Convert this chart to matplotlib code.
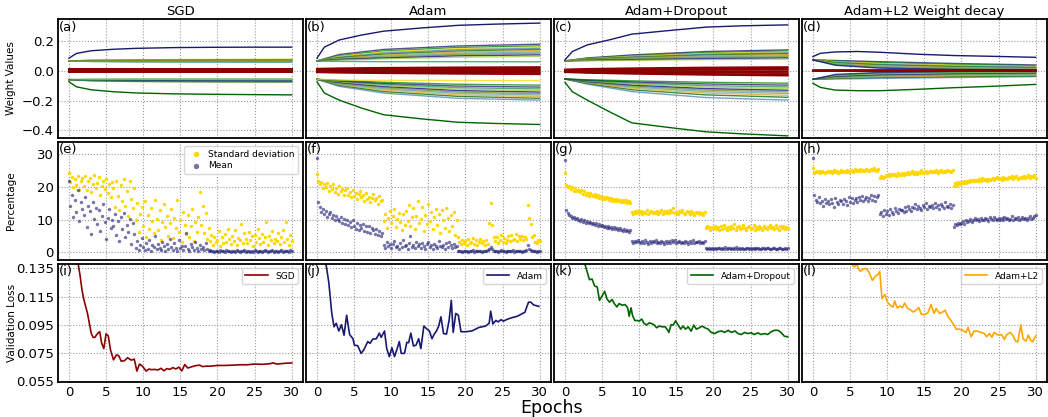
import numpy as np
import matplotlib
matplotlib.use('Agg')
import matplotlib.pyplot as plt

# ---------------- data ----------------
titles = ['SGD', 'Adam', 'Adam+Dropout', 'Adam+L2 Weight decay']
panel_labels = ['(a)', '(b)', '(c)', '(d)', '(e)', '(f)', '(g)', '(h)', '(i)', '(j)', '(k)', '(l)']
loss_names = ['SGD', 'Adam', 'Adam+Dropout', 'Adam+L2']
epoch_ticks = [0, 5, 10, 15, 20, 25, 30]

# weight trajectories: extreme lines sampled at w_epochs, fan lines at fan_epochs
w_epochs = [0, 1, 3, 6, 9, 14, 19, 24, 30]
fan_epochs = [0, 3, 9, 19, 30]

sgd_w_top = [0.083, 0.115, 0.133, 0.143, 0.149, 0.154, 0.156, 0.157, 0.157]
sgd_w_bot = [-0.074, -0.108, -0.128, -0.141, -0.149, -0.155, -0.158, -0.160, -0.162]
sgd_w_up = [[0.065, 0.068, 0.070, 0.071, 0.072], [0.065, 0.062, 0.060, 0.059, 0.058],
            [0.065, 0.070, 0.073, 0.075, 0.076], [0.065, 0.064, 0.063, 0.063, 0.062],
            [0.065, 0.067, 0.068, 0.069, 0.069], [0.065, 0.066, 0.066, 0.066, 0.066],
            [0.065, 0.061, 0.058, 0.057, 0.057], [0.065, 0.069, 0.071, 0.073, 0.074]]
sgd_w_lo = [[-0.060, -0.063, -0.065, -0.066, -0.067], [-0.060, -0.058, -0.057, -0.057, -0.057],
            [-0.060, -0.066, -0.070, -0.072, -0.073], [-0.060, -0.061, -0.062, -0.062, -0.062],
            [-0.060, -0.068, -0.073, -0.075, -0.076], [-0.060, -0.064, -0.067, -0.069, -0.070],
            [-0.060, -0.059, -0.059, -0.059, -0.059], [-0.060, -0.067, -0.071, -0.074, -0.075]]
sgd_w_zero = [[0.013, 0.013, 0.013, 0.013, 0.013], [0.009, 0.009, 0.009, 0.009, 0.009],
              [0.005, 0.005, 0.005, 0.005, 0.005], [0.001, 0.001, 0.001, 0.001, 0.001],
              [-0.003, -0.003, -0.003, -0.003, -0.003], [-0.007, -0.007, -0.007, -0.007, -0.007],
              [-0.011, -0.011, -0.011, -0.011, -0.011]]

adam_w_top = [0.083, 0.157, 0.205, 0.238, 0.264, 0.285, 0.303, 0.311, 0.318]
adam_w_bot = [-0.074, -0.150, -0.197, -0.250, -0.295, -0.322, -0.345, -0.353, -0.360]
adam_w_up = [[0.065, 0.108, 0.142, 0.165, 0.177], [0.065, 0.100, 0.132, 0.155, 0.166],
             [0.065, 0.095, 0.125, 0.147, 0.158], [0.065, 0.090, 0.118, 0.140, 0.150],
             [0.065, 0.086, 0.110, 0.131, 0.142], [0.065, 0.082, 0.104, 0.124, 0.135],
             [0.065, 0.079, 0.097, 0.116, 0.126], [0.065, 0.076, 0.090, 0.108, 0.117],
             [0.065, 0.074, 0.084, 0.099, 0.106], [0.065, 0.071, 0.079, 0.090, 0.095],
             [0.065, 0.062, 0.060, 0.060, 0.059]]
adam_w_lo = [[-0.058, -0.105, -0.150, -0.185, -0.197], [-0.058, -0.098, -0.140, -0.172, -0.185],
             [-0.058, -0.092, -0.130, -0.162, -0.174], [-0.058, -0.088, -0.122, -0.152, -0.163],
             [-0.058, -0.083, -0.114, -0.143, -0.154], [-0.058, -0.079, -0.106, -0.133, -0.143],
             [-0.058, -0.075, -0.099, -0.124, -0.133], [-0.058, -0.071, -0.092, -0.114, -0.122],
             [-0.058, -0.068, -0.085, -0.103, -0.110], [-0.058, -0.065, -0.078, -0.091, -0.097],
             [-0.058, -0.063, -0.065, -0.066, -0.066]]
adam_w_zero = [[0.013, 0.016, 0.019, 0.022, 0.024], [0.009, 0.011, 0.013, 0.015, 0.016],
               [0.005, 0.006, 0.007, 0.008, 0.008], [0.001, 0.001, 0.001, 0.001, 0.000],
               [-0.003, -0.004, -0.005, -0.006, -0.008], [-0.007, -0.009, -0.011, -0.014, -0.016],
               [-0.011, -0.014, -0.017, -0.021, -0.024]]

drop_w_top = [0.072, 0.128, 0.172, 0.206, 0.244, 0.268, 0.291, 0.300, 0.306]
drop_w_bot = [-0.078, -0.141, -0.197, -0.275, -0.349, -0.380, -0.409, -0.423, -0.436]
drop_w_up = [[0.065, 0.085, 0.105, 0.128, 0.139], [0.065, 0.082, 0.100, 0.121, 0.131],
             [0.065, 0.080, 0.096, 0.115, 0.125], [0.065, 0.078, 0.092, 0.110, 0.119],
             [0.065, 0.076, 0.088, 0.104, 0.113], [0.065, 0.074, 0.085, 0.099, 0.107],
             [0.065, 0.072, 0.081, 0.093, 0.100], [0.065, 0.070, 0.077, 0.087, 0.093],
             [0.065, 0.068, 0.073, 0.080, 0.085], [0.065, 0.066, 0.069, 0.074, 0.077]]
drop_w_lo = [[-0.056, -0.090, -0.140, -0.180, -0.197], [-0.056, -0.085, -0.128, -0.162, -0.178],
             [-0.056, -0.081, -0.118, -0.150, -0.165], [-0.056, -0.078, -0.110, -0.140, -0.153],
             [-0.056, -0.075, -0.103, -0.130, -0.142], [-0.056, -0.072, -0.096, -0.120, -0.131],
             [-0.056, -0.069, -0.089, -0.110, -0.120], [-0.056, -0.066, -0.082, -0.100, -0.109],
             [-0.056, -0.063, -0.075, -0.089, -0.097], [-0.056, -0.061, -0.068, -0.078, -0.084]]
drop_w_zero = [[0.008, 0.012, 0.016, 0.021, 0.024], [0.005, 0.007, 0.010, 0.013, 0.015],
               [0.002, 0.003, 0.004, 0.005, 0.006], [-0.001, -0.002, -0.003, -0.004, -0.005],
               [-0.004, -0.007, -0.010, -0.013, -0.016], [-0.007, -0.011, -0.016, -0.022, -0.026],
               [-0.010, -0.015, -0.021, -0.028, -0.033]]

l2_w_top = [0.094, 0.116, 0.125, 0.128, 0.123, 0.110, 0.101, 0.096, 0.089]
l2_w_bot = [-0.085, -0.112, -0.130, -0.134, -0.134, -0.125, -0.114, -0.105, -0.092]
l2_w_up = [[0.072, 0.068, 0.060, 0.048, 0.038], [0.072, 0.064, 0.054, 0.042, 0.033],
           [0.072, 0.060, 0.048, 0.036, 0.028], [0.072, 0.056, 0.043, 0.031, 0.024],
           [0.072, 0.052, 0.038, 0.026, 0.019], [0.072, 0.048, 0.033, 0.021, 0.015],
           [0.072, 0.044, 0.028, 0.017, 0.011], [0.072, 0.040, 0.022, 0.012, 0.007],
           [0.072, 0.036, 0.017, 0.008, 0.004]]
l2_w_lo = [[-0.058, -0.056, -0.052, -0.046, -0.040], [-0.058, -0.052, -0.046, -0.040, -0.035],
           [-0.058, -0.048, -0.041, -0.034, -0.029], [-0.058, -0.045, -0.036, -0.029, -0.024],
           [-0.058, -0.041, -0.031, -0.024, -0.019], [-0.058, -0.037, -0.026, -0.019, -0.014],
           [-0.058, -0.033, -0.021, -0.014, -0.009], [-0.058, -0.029, -0.016, -0.009, -0.005],
           [-0.058, -0.025, -0.012, -0.005, -0.002]]
l2_w_zero = [[0.004, 0.004, 0.004, 0.004, 0.004], [0.000, 0.000, 0.000, 0.000, 0.000],
             [-0.004, -0.004, -0.004, -0.004, -0.004]]

# percentage clouds, one reading every 0.2 epoch
pct_step = 0.2
sgd_std = [24.1, 21.5, 23.0, 19.8, 22.4, 20.6, 23.4, 18.9, 21.7, 22.8,
           20.1, 23.2, 19.0, 21.9, 22.6, 18.4, 20.8, 23.5, 19.6, 21.2,
           22.9, 17.6, 20.3, 21.8, 19.2, 22.5, 18.1, 20.9, 16.8, 21.4,
           19.5, 13.8, 21.6, 17.2, 12.9, 20.4, 15.6, 22.3, 14.1, 18.8,
           11.2, 21.8, 16.4, 13.5, 19.7, 9.8, 14.9, 6.2, 11.6, 13.9,
           8.1, 15.8, 4.6, 11.3, 7.2, 13.6, 9.4, 5.8, 16.1, 10.2,
           6.9, 12.8, 3.9, 9.1, 14.7, 7.6, 11.2, 5.1, 8.8, 13.3,
           4.4, 10.6, 7.3, 15.9, 6.1, 9.8, 3.2, 12.4, 8.2, 5.6,
           11.5, 4.8, 7.9, 13.1, 3.5, 9.3, 6.2, 10.8, 18.3, 8.4,
           14.2, 5.9, 11.9, 4.1, 7.4, 3.3, 5.2, 2.1, 4.8, 3.0,
           3.6, 6.4, 1.9, 4.7, 2.8, 5.5, 3.1, 7.2, 4.0, 2.4,
           5.1, 3.3, 6.8, 2.2, 4.5, 3.8, 8.6, 2.7, 5.9, 4.2,
           2.9, 6.1, 3.7, 4.9, 1.8, 5.4, 3.2, 7.0, 4.4, 2.5,
           5.7, 3.0, 4.6, 9.1, 2.3, 5.0, 3.9, 6.5, 2.8, 4.1,
           3.4, 5.8, 2.6, 4.7, 6.9, 3.1, 9.3, 4.2, 2.2, 5.3,
           3.5]
sgd_mean = [21.6, 14.2, 17.5, 10.8, 16.1, 12.3, 19.0, 9.4, 15.2, 13.1,
            11.4, 16.9, 7.8, 14.0, 12.6, 5.6, 15.3, 10.1, 13.5, 8.7,
            12.8, 6.4, 11.0, 14.6, 9.2, 4.1, 10.5, 13.2, 7.3, 9.9,
            8.1, 11.7, 5.2, 9.6, 3.5, 10.9, 7.0, 12.1, 4.6, 8.4,
            6.3, 10.2, 2.4, 8.8, 5.5, 1.2, 3.4, 0.6, 2.1, 4.3,
            1.5, 0.8, 2.9, 1.1, 3.8, 0.5, 2.2, 1.7, 5.1, 0.9,
            2.6, 1.3, 0.7, 3.2, 1.9, 0.4, 2.4, 1.0, 4.2, 1.6,
            0.8, 2.7, 1.4, 0.5, 3.6, 1.2, 2.0, 0.6, 1.8, 5.9,
            1.1, 0.4, 2.5, 1.5, 0.7, 3.0, 1.3, 0.5, 2.2, 0.9,
            1.7, 0.6, 2.8, 1.0, 0.4, 0.6, 0.3, 0.5, 0.2, 0.4,
            0.4, 0.2, 0.6, 0.3, 0.5, 0.2, 0.7, 0.3, 0.4, 0.1,
            0.5, 0.3, 0.2, 0.6, 0.4, 0.2, 0.5, 0.3, 0.8, 0.2,
            0.3, 0.5, 0.2, 0.4, 0.1, 0.6, 0.3, 0.2, 0.5, 0.4,
            0.2, 0.4, 0.7, 0.3, 0.2, 0.5, 0.3, 0.6, 0.2, 0.4,
            0.5, 0.2, 0.3, 0.6, 0.2, 0.4, 0.3, 0.5, 0.2, 0.7,
            0.3]
adam_std = [24.0, 21.8, 20.9, 21.5, 19.6, 20.7, 19.9, 21.2, 18.8, 20.3,
            19.4, 20.8, 18.3, 19.7, 17.9, 20.1, 18.6, 19.2, 17.4, 18.9,
            19.5, 17.6, 18.4, 16.8, 19.0, 17.2, 18.1, 16.4, 17.8, 18.6,
            16.9, 17.5, 15.8, 18.2, 16.3, 17.0, 15.4, 16.7, 17.9, 15.9,
            16.6, 14.8, 17.3, 15.5, 16.1, 9.6, 11.8, 7.4, 10.5, 12.6,
            8.9, 11.2, 13.1, 7.8, 10.3, 12.0, 9.1, 6.8, 11.6, 8.3,
            12.7, 9.6, 14.3, 8.1, 10.8, 13.5, 7.2, 11.1, 15.8, 9.0,
            10.2, 13.9, 6.6, 11.4, 8.7, 14.8, 9.5, 12.3, 7.0, 10.9,
            13.2, 8.4, 11.8, 5.8, 12.9, 9.9, 7.5, 13.6, 10.4, 6.5,
            11.5, 8.0, 12.4, 5.2, 9.7, 4.6, 3.1, 2.4, 3.8, 2.9,
            3.5, 2.2, 4.1, 2.8, 3.2, 4.4, 2.5, 3.7, 2.1, 3.0,
            4.2, 2.7, 3.4, 2.3, 3.9, 2.6, 9.0, 15.0, 8.4, 4.6,
            3.3, 4.8, 2.9, 3.6, 5.2, 3.1, 4.5, 2.8, 3.9, 4.9,
            3.4, 5.4, 3.8, 4.2, 5.7, 3.5, 4.9, 4.0, 5.1, 3.6,
            4.8, 4.1, 14.4, 10.5, 8.6, 4.7, 5.3, 3.2, 2.8, 3.9,
            3.3]
adam_mean = [28.7, 15.2, 13.8, 12.4, 13.1, 11.6, 12.7, 10.9, 11.8, 12.2,
             10.5, 11.4, 9.8, 11.0, 10.1, 9.4, 10.7, 9.0, 10.3, 8.6,
             9.7, 8.3, 9.2, 7.6, 9.9, 8.0, 7.2, 8.8, 6.9, 8.4,
             7.5, 8.6, 6.6, 7.9, 6.2, 8.1, 5.8, 7.3, 6.7, 5.5,
             7.0, 5.2, 6.4, 4.9, 6.0, 2.1, 1.4, 3.0, 1.8, 2.6,
             1.2, 2.4, 3.3, 1.6, 2.0, 1.1, 2.8, 1.5, 3.6, 1.9,
             2.3, 1.0, 2.7, 5.1, 1.7, 2.2, 1.3, 3.0, 1.8, 2.5,
             1.4, 2.9, 1.9, 1.1, 2.4, 3.2, 1.6, 2.1, 0.9, 2.6,
             1.8, 1.3, 3.4, 2.0, 1.5, 2.3, 1.0, 2.7, 1.7, 3.1,
             2.2, 1.2, 2.5, 1.6, 1.9, 0.4, 0.3, 0.5, 0.2, 0.4,
             0.3, 0.5, 0.2, 0.4, 0.3, 0.6, 0.2, 0.4, 0.3, 0.5,
             0.4, 0.2, 0.5, 0.3, 0.4, 0.6, 1.0, 1.6, 0.9, 0.4,
             0.3, 0.5, 0.2, 0.4, 0.6, 0.3, 0.4, 0.2, 0.5, 0.3,
             0.4, 0.3, 0.6, 0.2, 0.4, 0.5, 0.3, 0.4, 0.2, 0.5,
             0.4, 0.6, 2.2, 1.1, 0.7, 0.4, 0.3, 0.5, 0.2, 0.4,
             0.3]
drop_std = [24.1, 20.6, 19.8, 20.2, 19.3, 19.9, 18.8, 19.5, 18.6, 19.1,
            18.4, 18.9, 17.9, 18.6, 17.6, 18.2, 17.3, 18.0, 17.5, 17.1,
            17.8, 16.9, 17.4, 16.6, 17.2, 16.4, 17.0, 16.2, 16.8, 16.5,
            16.0, 16.7, 15.8, 16.4, 15.6, 16.3, 15.5, 16.1, 15.3, 16.0,
            15.4, 15.9, 15.1, 15.7, 14.9, 12.2, 11.6, 12.5, 11.9, 12.7,
            12.1, 12.6, 11.8, 12.4, 12.0, 12.8, 11.7, 12.3, 12.5, 11.9,
            12.4, 12.0, 12.7, 11.6, 12.2, 12.9, 11.8, 12.5, 12.1, 12.6,
            11.9, 12.8, 12.3, 13.4, 12.0, 12.4, 11.7, 12.6, 12.2, 12.9,
            12.1, 11.8, 12.5, 12.2, 11.6, 12.7, 12.0, 11.5, 12.3, 11.9,
            12.4, 11.7, 12.0, 11.4, 12.2, 7.3, 8.0, 7.6, 6.9, 7.8,
            7.4, 8.1, 7.0, 7.7, 6.8, 7.9, 7.2, 8.3, 7.5, 6.9,
            7.8, 7.1, 8.0, 7.3, 8.5, 6.7, 7.6, 7.9, 7.0, 7.4,
            8.2, 7.3, 6.9, 7.7, 8.0, 7.1, 7.5, 8.4, 6.8, 7.6,
            7.2, 7.9, 7.4, 6.9, 8.1, 7.5, 7.0, 7.8, 8.3, 7.3,
            7.6, 7.0, 8.2, 7.4, 6.9, 7.9, 7.3, 8.0, 7.1, 7.7,
            7.5]
drop_mean = [28.2, 12.9, 12.1, 11.3, 11.0, 10.6, 10.9, 10.2, 10.5, 9.9,
             9.6, 10.1, 9.3, 9.7, 9.0, 9.4, 8.8, 9.2, 8.6, 9.0,
             8.4, 8.9, 8.1, 8.6, 7.9, 8.3, 7.7, 8.1, 7.5, 7.9,
             7.4, 7.8, 7.2, 7.6, 7.0, 7.4, 6.8, 7.3, 6.9, 6.6,
             7.1, 6.5, 6.9, 6.3, 6.7, 3.3, 2.8, 3.5, 3.0, 3.6,
             3.1, 2.7, 3.4, 2.9, 3.6, 3.0, 2.6, 3.3, 2.8, 3.5,
             3.0, 3.7, 2.7, 3.2, 2.9, 3.4, 3.1, 2.6, 3.5, 2.9,
             3.3, 2.8, 3.6, 3.0, 3.9, 2.7, 3.2, 3.5, 2.9, 3.1,
             2.8, 3.4, 3.0, 2.6, 3.3, 2.9, 3.6, 2.7, 3.2, 3.0,
             3.4, 2.7, 3.1, 2.9, 3.3, 1.3, 1.1, 1.4, 1.0, 1.2,
             1.1, 1.3, 1.0, 1.4, 1.2, 0.9, 1.3, 1.1, 1.5, 1.0,
             1.2, 1.4, 1.0, 1.3, 1.1, 1.5, 0.9, 1.2, 1.0, 1.3,
             1.1, 1.0, 1.4, 1.2, 0.9, 1.3, 1.1, 1.2, 1.0, 1.4,
             1.3, 1.1, 0.9, 1.2, 1.4, 1.0, 1.2, 1.3, 1.1, 1.0,
             1.2, 1.4, 1.1, 1.0, 1.3, 1.2, 0.9, 1.1, 1.3, 1.0,
             1.2]
l2_std = [25.6, 24.2, 24.7, 24.4, 24.9, 24.3, 24.8, 24.5, 24.1, 24.6,
          24.9, 24.4, 24.7, 24.2, 25.0, 24.5, 24.8, 24.3, 24.6, 25.1,
          24.5, 24.9, 24.6, 25.2, 24.4, 24.8, 25.0, 24.6, 25.3, 24.7,
          25.1, 24.8, 25.4, 24.9, 25.2, 24.7, 25.5, 25.0, 24.8, 25.3,
          25.0, 25.6, 25.2, 24.9, 25.4, 22.8, 23.4, 22.6, 23.1, 23.6,
          23.2, 23.8, 23.4, 24.0, 23.5, 23.9, 23.3, 24.2, 23.7, 23.6,
          24.1, 23.6, 24.3, 23.8, 24.5, 23.9, 24.2, 24.7, 23.9, 24.4,
          24.0, 24.6, 24.3, 25.1, 24.1, 24.5, 24.8, 24.2, 24.6, 24.9,
          24.4, 24.8, 24.5, 25.0, 24.3, 24.7, 25.2, 24.6, 24.9, 24.5,
          25.1, 24.7, 24.9, 24.6, 25.0, 20.3, 21.0, 20.6, 21.3, 20.8,
          21.4, 21.0, 21.7, 21.2, 21.9, 21.5, 22.1, 21.6, 22.0, 21.8,
          22.2, 21.7, 22.4, 21.9, 22.6, 22.0, 22.3, 21.8, 22.5, 22.1,
          22.4, 22.8, 22.0, 22.6, 23.1, 22.3, 22.7, 22.2, 22.9, 22.5,
          22.8, 22.3, 23.0, 22.6, 23.3, 22.5, 22.9, 23.2, 22.4, 22.8,
          23.1, 22.6, 23.4, 22.8, 23.0, 23.5, 22.7, 23.2, 22.9, 23.6,
          22.8]
l2_mean = [28.7, 17.6, 16.1, 15.3, 16.8, 14.9, 15.7, 14.2, 16.4, 15.0,
           15.8, 14.6, 16.2, 15.1, 13.9, 16.6, 15.4, 14.8, 16.0, 15.5,
           14.7, 16.3, 15.6, 14.4, 16.9, 15.2, 16.5, 14.9, 15.9, 16.7,
           15.3, 16.8, 15.9, 17.3, 15.5, 16.2, 17.0, 15.7, 16.6, 17.6,
           16.1, 17.2, 15.8, 16.9, 17.5, 11.6, 12.4, 11.0, 12.9, 11.8,
           12.6, 11.4, 13.1, 12.2, 11.7, 13.5, 12.5, 12.0, 13.3, 12.8,
           13.0, 12.3, 13.8, 12.7, 14.2, 13.1, 12.6, 13.9, 13.4, 14.6,
           13.2, 14.0, 13.6, 12.9, 14.5, 13.7, 14.9, 13.3, 14.1, 13.8,
           14.3, 13.5, 15.0, 13.9, 14.4, 13.1, 14.7, 14.0, 13.6, 15.2,
           14.2, 13.7, 14.8, 13.4, 14.5, 7.8, 8.6, 8.2, 9.0, 8.5,
           8.9, 9.4, 8.7, 9.8, 9.2, 9.6, 10.1, 9.3, 9.9, 10.4,
           9.7, 10.2, 9.5, 10.6, 10.0, 9.8, 10.5, 10.1, 9.6, 10.9,
           10.3, 9.9, 10.7, 10.2, 9.8, 10.6, 10.0, 10.4, 9.7, 10.8,
           10.1, 10.5, 9.9, 10.3, 11.0, 9.8, 10.4, 10.2, 10.7, 10.0,
           10.3, 10.8, 10.1, 10.6, 9.9, 10.4, 11.2, 10.2, 10.5, 11.0,
           11.5]

# validation loss curves
sgd_ep = [0, 0.25, 0.5, 0.75, 1.0, 1.25, 1.5, 1.75, 2.0, 2.25, 2.5, 2.75, 3.0, 3.25, 3.5, 3.75,
          4.0, 4.15, 4.4, 4.7, 5.0, 5.3, 5.6, 6.0, 6.4, 6.7, 7.05, 7.5, 7.9, 8.4, 8.8, 9.15,
          9.5, 9.9, 10.4, 10.8, 11.1, 11.5, 12.0, 12.4, 12.8, 13.2, 13.6, 14.0, 14.4, 14.8,
          15.2, 15.6, 16.0, 16.4, 16.8, 17.2, 17.6, 18.0, 18.5, 19, 20, 21, 22, 23, 24, 25,
          26, 27, 27.5, 28, 29, 30]
sgd_loss = [0.190, 0.175, 0.162, 0.152, 0.144, 0.138, 0.130, 0.120, 0.113, 0.108, 0.103, 0.096,
            0.089, 0.086, 0.086, 0.088, 0.0895, 0.090, 0.082, 0.078, 0.0885, 0.087, 0.077, 0.070,
            0.0735, 0.073, 0.069, 0.0695, 0.0715, 0.0698, 0.0705, 0.062, 0.067, 0.0655, 0.062,
            0.0635, 0.063, 0.0632, 0.0628, 0.064, 0.0622, 0.0638, 0.0632, 0.0645, 0.0635, 0.0648,
            0.0621, 0.0667, 0.0642, 0.0648, 0.0655, 0.066, 0.0662, 0.0652, 0.0655, 0.0655, 0.066,
            0.066, 0.0662, 0.0665, 0.0665, 0.067, 0.0668, 0.0672, 0.0678, 0.067, 0.0675, 0.0678]

adam_ep = [0, 0.5, 1.0, 1.25, 1.6, 2.0, 2.3, 2.6, 2.95, 3.3, 3.65, 4.0, 4.4, 4.85, 5.05, 5.5,
           5.95, 6.3, 6.85, 7.15, 7.5, 8.0, 8.4, 8.65, 9.1, 9.4, 9.75, 10.1, 10.45, 10.75, 11.1,
           11.35, 11.8, 12.1, 12.35, 12.65, 13.0, 13.35, 13.7, 14.0, 14.4, 14.8, 15.15, 15.5,
           15.8, 16.1, 16.4, 16.7, 17.05, 17.45, 17.8, 18.1, 18.35, 18.7, 19.05, 19.4, 20.1,
           20.9, 21.8, 22.7, 23.2, 23.4, 23.7, 24.1, 24.4, 24.8, 25.1, 25.7, 26.3, 27.0, 27.7,
           28.0, 28.5, 28.8, 29.2, 29.9]
adam_loss = [0.170, 0.150, 0.139, 0.137, 0.125, 0.103, 0.0935, 0.096, 0.0905, 0.095, 0.0875,
             0.1017, 0.088, 0.085, 0.0805, 0.080, 0.0746, 0.077, 0.083, 0.0817, 0.0847, 0.085,
             0.089, 0.086, 0.0905, 0.078, 0.0723, 0.0786, 0.0723, 0.077, 0.083, 0.0746, 0.0746,
             0.0824, 0.0822, 0.089, 0.0798, 0.0805, 0.085, 0.078, 0.094, 0.092, 0.0905, 0.085,
             0.0883, 0.0905, 0.094, 0.1006, 0.0887, 0.0883, 0.098, 0.1123, 0.0895, 0.103, 0.1017,
             0.090, 0.090, 0.0906, 0.093, 0.094, 0.096, 0.1046, 0.0955, 0.098, 0.097, 0.0986,
             0.0975, 0.099, 0.100, 0.101, 0.103, 0.1037, 0.111, 0.111, 0.109, 0.108]

drop_ep = [0, 1, 2, 2.7, 3.0, 3.3, 3.65, 4.0, 4.35, 4.65, 5.0, 5.35, 5.65, 6.0, 6.35, 6.65, 7.0,
           7.3, 7.7, 8.1, 8.45, 8.65, 8.9, 9.1, 9.4, 9.7, 10.0, 10.35, 10.65, 11.0, 11.35, 11.7,
           12.05, 12.35, 12.7, 13.1, 13.5, 13.85, 14.0, 14.3, 14.6, 14.9, 15.25, 15.6, 15.9,
           16.25, 16.6, 17.0, 17.35, 17.7, 18.1, 18.5, 18.85, 19.3, 19.7, 20.2, 20.6, 21.1, 21.5,
           22.0, 22.4, 22.9, 23.3, 23.75, 24.2, 24.6, 25.1, 25.5, 26.0, 26.4, 26.9, 27.3, 27.8,
           28.2, 28.7, 29.1, 29.55, 30.0]
drop_loss = [0.190, 0.165, 0.148, 0.138, 0.1324, 0.127, 0.1275, 0.1225, 0.1218, 0.1123, 0.1154,
             0.1187, 0.1135, 0.111, 0.113, 0.110, 0.1076, 0.110, 0.1088, 0.1093, 0.107, 0.101,
             0.107, 0.1017, 0.098, 0.098, 0.0975, 0.099, 0.096, 0.0947, 0.0963, 0.0958, 0.0947,
             0.0928, 0.094, 0.0935, 0.0935, 0.091, 0.0895, 0.095, 0.0948, 0.0977, 0.0947, 0.0918,
             0.094, 0.0918, 0.0935, 0.0904, 0.0947, 0.0918, 0.0928, 0.094, 0.0928, 0.0918, 0.0895,
             0.0887, 0.090, 0.0905, 0.0895, 0.091, 0.0895, 0.0905, 0.0887, 0.088, 0.0895, 0.0887,
             0.0892, 0.088, 0.0892, 0.088, 0.0887, 0.088, 0.090, 0.091, 0.091, 0.0895, 0.0868,
             0.0864]

l2_ep = [0, 2, 4, 5.0, 5.2, 5.6, 5.9, 6.1, 6.4, 6.8, 7.2, 7.55, 8.0, 8.45, 8.8, 9.0, 9.3, 9.7,
         10.05, 10.5, 10.8, 11.0, 11.35, 11.7, 12.05, 12.35, 12.7, 13.2, 13.5, 13.9, 14.25, 14.6,
         15.05, 15.5, 15.9, 16.3, 16.6, 17.05, 17.5, 17.8, 18.2, 18.6, 19.0, 19.3, 19.7, 20.2,
         20.6, 20.9, 21.3, 21.7, 22.2, 22.6, 23.1, 23.4, 23.75, 24.1, 24.4, 24.8, 25.1, 25.4,
         25.8, 26.1, 26.6, 26.9, 27.3, 27.6, 28.0, 28.3, 28.7, 29.0, 29.3, 29.6, 30.0]
l2_loss = [0.200, 0.170, 0.150, 0.140, 0.138, 0.136, 0.1385, 0.135, 0.133, 0.1348, 0.1348,
           0.1324, 0.1265, 0.1296, 0.131, 0.1329, 0.1135, 0.1164, 0.111, 0.1083, 0.1076, 0.1119,
           0.1069, 0.1083, 0.1072, 0.1104, 0.1069, 0.1053, 0.104, 0.1053, 0.1072, 0.1024, 0.1022,
           0.1036, 0.1093, 0.103, 0.1064, 0.103, 0.104, 0.1053, 0.1005, 0.098, 0.0946, 0.0918,
           0.0918, 0.091, 0.0895, 0.093, 0.0864, 0.0904, 0.0904, 0.0895, 0.0887, 0.0864, 0.0887,
           0.086, 0.0895, 0.088, 0.0876, 0.088, 0.0845, 0.088, 0.0895, 0.0876, 0.0833, 0.0828,
           0.095, 0.085, 0.0833, 0.0876, 0.084, 0.0828, 0.087]

# ---------------- drawing ----------------
W, H = 1048, 417
fig = plt.figure(figsize=(W / 100, H / 100), dpi=100)
lefts = [57.8, 305.8, 553.8, 801.8]
aw = 245
tops = [19.5, 141.5, 263.5]
ah = 118

axes = [[fig.add_axes([lefts[c] / W, 1 - (tops[r] + ah) / H, aw / W, ah / H]) for c in range(4)]
        for r in range(3)]

fan_colors = ['midnightblue', 'green', 'gold', 'steelblue', 'darkgreen', 'goldenrod',
              'cadetblue', 'olivedrab', 'navy', 'yellowgreen', 'seagreen']

weights = [
    (sgd_w_top, sgd_w_bot, sgd_w_up, sgd_w_lo, sgd_w_zero),
    (adam_w_top, adam_w_bot, adam_w_up, adam_w_lo, adam_w_zero),
    (drop_w_top, drop_w_bot, drop_w_up, drop_w_lo, drop_w_zero),
    (l2_w_top, l2_w_bot, l2_w_up, l2_w_lo, l2_w_zero),
]
pcts = [(sgd_std, sgd_mean), (adam_std, adam_mean), (drop_std, drop_mean), (l2_std, l2_mean)]
losses = [(sgd_ep, sgd_loss, 'darkred'), (adam_ep, adam_loss, 'midnightblue'),
          (drop_ep, drop_loss, 'darkgreen'), (l2_ep, l2_loss, 'orange')]

for c in range(4):
    top, bot, up, lo, zero = weights[c]
    ax = axes[0][c]
    for k, line in enumerate(up):
        ax.plot(fan_epochs, line, color=fan_colors[k % len(fan_colors)], lw=1.0, alpha=0.75)
    for k, line in enumerate(lo):
        ax.plot(fan_epochs, line, color=fan_colors[(k + 3) % len(fan_colors)], lw=1.0, alpha=0.75)
    for line in zero:
        ax.plot(fan_epochs, line, color='darkred', lw=1.3)
    ax.plot(w_epochs, top, color='midnightblue', lw=1.0)
    ax.plot(w_epochs, bot, color='darkgreen', lw=1.0)
    ax.set_ylim(-0.447, 0.342)
    ax.set_yticks([-0.4, -0.2, 0.0, 0.2])
    ax.set_title(titles[c], fontsize=9.5, pad=3)

    ax = axes[1][c]
    std, mean = pcts[c]
    xs = np.arange(len(std)) * pct_step
    xm = np.arange(len(mean)) * pct_step
    ax.scatter(xs, std, s=6, color='gold', linewidths=0, label='Standard deviation', zorder=3)
    ax.scatter(xm, mean, s=6, color='midnightblue', alpha=0.6, linewidths=0, label='Mean', zorder=3)
    ax.set_ylim(-2.2, 33.8)
    ax.set_yticks([0, 10, 20, 30])
    if c == 0:
        ax.legend(loc='upper right', fontsize=6.5, markerscale=1.6, handletextpad=0.3,
                  borderpad=0.4, labelspacing=0.3)

    ax = axes[2][c]
    ep, lo_, col = losses[c]
    ax.plot(ep, lo_, color=col, lw=1.2, label=loss_names[c])
    ax.set_ylim(0.0546, 0.1385)
    ax.set_yticks([0.055, 0.075, 0.095, 0.115, 0.135])
    ax.yaxis.set_major_formatter(matplotlib.ticker.FormatStrFormatter('%.3f'))
    ax.legend(loc='upper right', fontsize=6.5, handlelength=2.5, borderpad=0.4)

for r in range(3):
    for c in range(4):
        ax = axes[r][c]
        ax.set_xlim(-1.5, 31.5)
        ax.set_xticks(epoch_ticks)
        ax.grid(True, linestyle=':', color='#999999', linewidth=0.8)
        ax.set_axisbelow(True)
        ax.tick_params(length=0, labelsize=9.5, pad=3)
        for s in ax.spines.values():
            s.set_linewidth(1.3)
            s.set_color('black')
        if r < 2:
            ax.tick_params(labelbottom=False)
        if c > 0:
            ax.tick_params(labelleft=False)
        ax.text(0.006, 0.985, panel_labels[r * 4 + c], transform=ax.transAxes,
                ha='left', va='top', fontsize=9.5, zorder=5)

fig.text(11 / W, 1 - 78.5 / H, 'Weight Values', rotation=90, ha='center', va='center', fontsize=7.5)
fig.text(11 / W, 1 - 200.5 / H, 'Percentage', rotation=90, ha='center', va='center', fontsize=7.5)
fig.text(12 / W, 1 - 322.5 / H, 'Validation Loss', rotation=90, ha='center', va='center', fontsize=7.5)
fig.text(552 / W, 1 - 408 / H, 'Epochs', ha='center', va='center', fontsize=12.5)

fig.savefig('out.png', dpi=100)
